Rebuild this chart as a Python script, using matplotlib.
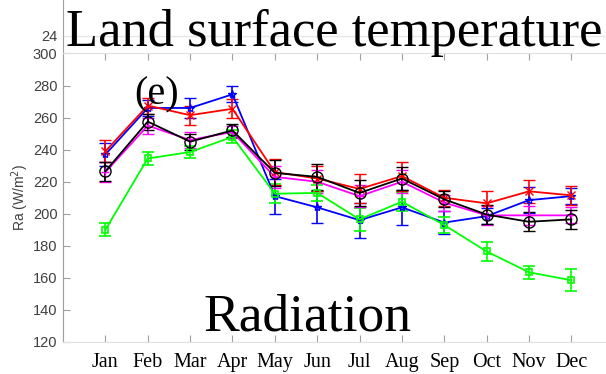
import matplotlib.pyplot as plt
import numpy as np

months = ['Jan', 'Feb', 'Mar', 'Apr', 'May', 'Jun', 'Jul', 'Aug', 'Sep', 'Oct', 'Nov', 'Dec']

# series values (W/m2) and error bar half-widths
blue = [237, 266, 266, 274.5, 211, 204, 196, 204, 194.5, 198.5, 208.5, 211]
blue_err = [7, 5, 6, 5, 11, 10, 11, 11, 7, 5, 8, 5]
green = [190, 234.5, 238.5, 248, 212.5, 213, 196.5, 207.5, 193, 176.5, 163.5, 158.5]
green_err = [4, 4, 4, 4, 6, 5, 7, 6, 5, 6, 4, 7]
magenta = [226, 255, 246, 251, 223, 220, 211, 220, 207, 199, 199, 199]
magenta_err = [6, 5, 5, 4, 7, 7, 7, 7, 5, 6, 6, 5]
red = [239, 267.5, 261.5, 265.5, 226, 222, 215.5, 223.5, 210, 206.5, 214, 211.5]
red_err = [7, 5, 6, 6, 8, 8, 9, 9, 5, 8, 7, 6]
black = [226.5, 257.5, 245, 252, 225.5, 223, 213, 222, 209, 199.5, 195, 196.5]
black_err = [6, 5, 5, 4, 8, 8, 8, 7, 5, 6, 6, 6]

x = np.arange(1, 13)

fig = plt.figure(figsize=(6.06, 3.74), dpi=100)

# faint axes behind (stray "24" tick)
bg = fig.add_axes([0.104, 0.0856, 0.9087, 0.9144])
bg.set_ylim(0, 26.82)
bg.set_xlim(0, 13)
bg.set_yticks([24])
bg.set_xticks([])
bg.grid(axis='y', color='#e6e6e6', linewidth=1)
for s in ['top', 'right', 'bottom']:
    bg.spines[s].set_visible(False)
bg.spines['left'].set_color('#a0a0a0')
bg.tick_params(axis='y', length=0, labelsize=10.5, labelcolor='#404040', pad=4)
for lab in bg.get_yticklabels():
    lab.set_family('Liberation Sans')

ax = fig.add_axes([0.104, 0.0856, 0.9087, 0.7714])
ax.set_xlim(0, 13)
ax.set_ylim(120, 300)

style = dict(capsize=4, elinewidth=1.2, linewidth=1.3, markersize=6, markerfacecolor='none')
ax.errorbar(x, blue, yerr=blue_err, color='#0000ff', marker='*', **style)
ax.errorbar(x, green, yerr=green_err, color='#00ff00', marker='s', markeredgewidth=1.2,
            capsize=4, elinewidth=1.2, linewidth=1.3, markersize=5, markerfacecolor='none')
ax.errorbar(x, magenta, yerr=magenta_err, color='#ff00ff', marker='+', **style)
ax.errorbar(x, red, yerr=red_err, color='#ff0000', marker='x', **style)
ax.errorbar(x, black, yerr=black_err, color='black', marker='o', capsize=4, elinewidth=1.2,
            linewidth=1.3, markersize=8, markerfacecolor='none')

ax.set_xticks(x)
ax.set_xticklabels(months, family='Liberation Serif', fontsize=14.5, color='black')
ax.set_yticks(np.arange(120, 301, 20))
for lab in ax.get_yticklabels():
    lab.set_family('Liberation Sans')
ax.tick_params(axis='y', direction='in', length=5, labelsize=10.5, labelcolor='#404040',
               color='#a0a0a0', pad=4)
ax.tick_params(axis='x', direction='in', length=5, top=True, color='#a0a0a0', pad=8)
ax.spines['left'].set_color('#a0a0a0')
ax.spines['top'].set_color('#e0e0e0')
ax.spines['bottom'].set_color('#e0e0e0')
ax.spines['right'].set_color('#a0a0a0')
ax.set_ylabel('Ra (W/m$^2$)', fontsize=10, color='#404040', family='Liberation Sans', labelpad=1)

fig.text(0.552, 0.878, 'Land surface temperature', family='Liberation Serif', fontsize=37.8,
         ha='center', va='baseline')
fig.text(0.259, 0.746, '(e)', family='Liberation Serif', fontsize=29, ha='center', va='center')
fig.text(0.508, 0.115, 'Radiation', family='Liberation Serif', fontsize=38.5,
         ha='center', va='baseline')

plt.savefig('out.png', dpi=100)
